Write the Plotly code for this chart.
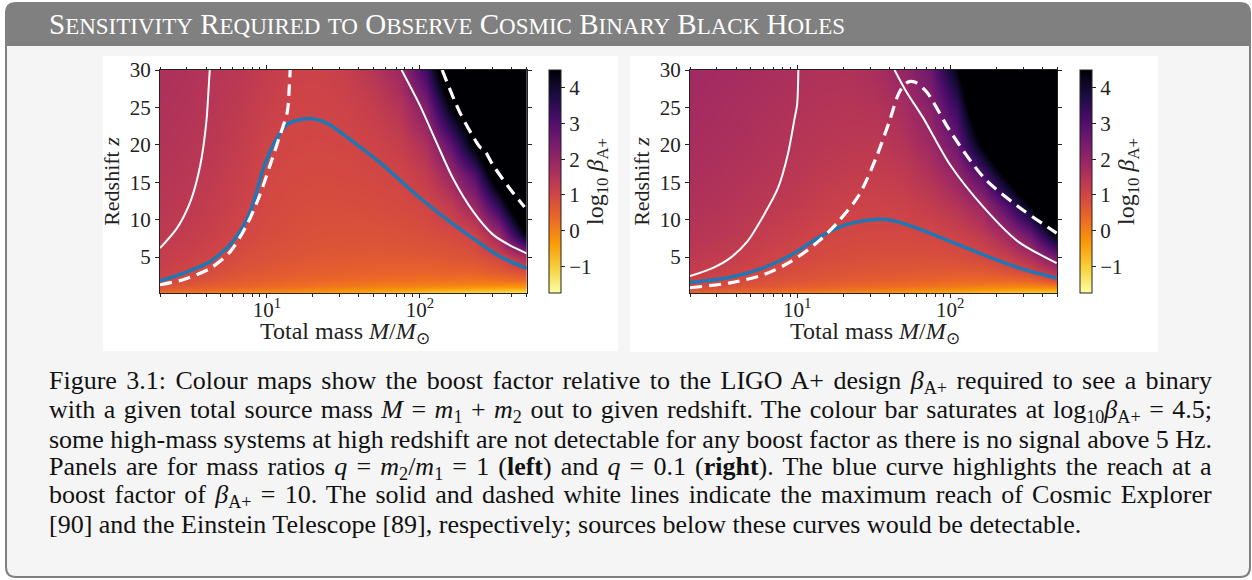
import math
import plotly.graph_objects as go

W, H = 1252, 580
FONT = "Liberation Serif"


def X(px):
    return px / W


def Y(py):
    return 1 - py / H


# ---------------- data ----------------
mass_nodes = [2, 3, 4.5, 7, 10, 15, 22, 33, 50, 75, 110, 160, 230, 330, 500]
z_nodes = [0.2, 0.6, 1.2, 2, 3, 5, 8, 12, 16, 20, 25, 30]

logbeta_q1_cols = [
    [0.2, 0.5, 0.8, 1.02, 1.12, 1.22, 1.32, 1.4, 1.46, 1.51, 1.56, 1.6],
    [0.1, 0.4, 0.65, 0.85, 1.0, 1.13, 1.24, 1.33, 1.4, 1.45, 1.5, 1.55],
    [0.0, 0.3, 0.55, 0.72, 0.85, 1.01, 1.13, 1.23, 1.3, 1.36, 1.41, 1.45],
    [-0.15, 0.2, 0.45, 0.6, 0.72, 0.85, 0.97, 1.07, 1.15, 1.22, 1.29, 1.35],
    [-0.25, 0.1, 0.35, 0.52, 0.65, 0.78, 0.88, 0.95, 0.98, 1.04, 1.15, 1.25],
    [-0.35, 0.0, 0.28, 0.45, 0.58, 0.72, 0.82, 0.89, 0.94, 0.98, 1.03, 1.1],
    [-0.45, -0.1, 0.2, 0.4, 0.53, 0.67, 0.78, 0.86, 0.92, 0.97, 1.03, 1.09],
    [-0.55, -0.2, 0.12, 0.35, 0.5, 0.65, 0.77, 0.87, 0.94, 0.99, 1.08, 1.18],
    [-0.7, -0.3, 0.05, 0.3, 0.47, 0.63, 0.77, 0.89, 0.97, 1.06, 1.22, 1.45],
    [-0.85, -0.4, 0.0, 0.28, 0.46, 0.64, 0.8, 0.93, 1.03, 1.2, 1.5, 1.9],
    [-1.0, -0.5, -0.05, 0.25, 0.45, 0.66, 0.85, 1.0, 1.25, 1.6, 2.3, 3.3],
    [-1.1, -0.6, -0.1, 0.25, 0.47, 0.72, 0.9, 1.3, 1.9, 2.8, 4.5, 6.0],
    [-1.2, -0.7, -0.15, 0.22, 0.48, 0.78, 1.05, 1.95, 3.0, 4.7, 6.0, 7.0],
    [-1.3, -0.8, -0.2, 0.25, 0.6, 1.0, 1.9, 3.6, 5.5, 7.0, 7.0, 7.0],
    [-1.35, -0.85, -0.25, 0.35, 0.82, 1.7, 4.5, 6.5, 7.0, 7.0, 7.0, 7.0],
]
logbeta_q01_cols = [
    [0.4, 0.7, 0.98, 1.12, 1.22, 1.34, 1.45, 1.55, 1.62, 1.68, 1.74, 1.8],
    [0.3, 0.6, 0.85, 1.01, 1.13, 1.27, 1.39, 1.5, 1.57, 1.63, 1.69, 1.75],
    [0.2, 0.5, 0.75, 0.9, 1.02, 1.17, 1.31, 1.43, 1.51, 1.58, 1.64, 1.7],
    [0.1, 0.4, 0.65, 0.8, 0.92, 1.05, 1.2, 1.34, 1.44, 1.51, 1.58, 1.65],
    [0.0, 0.32, 0.57, 0.73, 0.84, 0.97, 1.12, 1.27, 1.38, 1.46, 1.53, 1.6],
    [-0.1, 0.25, 0.5, 0.66, 0.77, 0.9, 1.0, 1.17, 1.3, 1.4, 1.48, 1.55],
    [-0.2, 0.15, 0.42, 0.6, 0.72, 0.86, 0.97, 1.1, 1.25, 1.36, 1.46, 1.55],
    [-0.3, 0.05, 0.35, 0.55, 0.68, 0.83, 0.95, 1.07, 1.22, 1.35, 1.5, 1.65],
    [-0.42, -0.05, 0.28, 0.5, 0.65, 0.82, 0.95, 1.12, 1.3, 1.5, 1.7, 2.0],
    [-0.55, -0.15, 0.2, 0.45, 0.62, 0.82, 0.98, 1.25, 1.55, 1.85, 2.2, 2.6],
    [-0.7, -0.25, 0.12, 0.4, 0.6, 0.85, 1.08, 1.5, 2.0, 2.6, 3.4, 4.4],
    [-0.85, -0.35, 0.05, 0.38, 0.62, 0.95, 1.3, 1.9, 3.0, 4.6, 6.0, 7.0],
    [-0.95, -0.45, 0.0, 0.4, 0.75, 1.15, 1.8, 3.0, 4.7, 6.5, 7.0, 7.0],
    [-1.05, -0.55, -0.05, 0.45, 0.95, 1.6, 2.6, 4.5, 6.5, 7.0, 7.0, 7.0],
    [-1.1, -0.55, 0.1, 0.9, 1.5, 2.5, 4.5, 7.0, 7.0, 7.0, 7.0, 7.0],
]

# q = 1 curves
blue_q1_M = [2.0, 2.86, 4.26, 6.0, 7.8, 9.5, 11.0, 13.5, 18.2, 24.6, 36.7, 57.5, 95, 157, 258, 331, 500]
blue_q1_z = [1.83, 2.86, 4.4, 7.1, 11.1, 16.9, 20.0, 22.7, 23.5, 22.9, 20.4, 17.3, 13.3, 9.75, 6.6, 5.1, 3.5]
ce_q1_low_M = [2.0, 2.59, 3.16, 3.67, 4.02, 4.16, 4.23]
ce_q1_low_z = [6.2, 8.9, 12.4, 17.3, 23.1, 27.6, 30.0]
ce_q1_high_M = [76, 100, 128, 165, 223, 301, 386, 500]
ce_q1_high_z = [30.0, 25.3, 20.4, 15.5, 11.1, 8.0, 6.6, 5.5]
et_q1_low_M = [2.0, 2.86, 4.27, 5.75, 7.4, 9.0, 10.5, 12.2, 13.6, 14.0, 14.2]
et_q1_low_z = [1.3, 2.0, 3.5, 5.7, 9.3, 13.3, 17.3, 21.3, 24.4, 27.6, 30.0]
et_q1_high_M = [140, 182, 234, 250, 262, 301, 386, 484]
et_q1_high_z = [30.0, 24.4, 20.4, 19.6, 19.4, 17.3, 14.2, 11.7]

# q = 0.1 curves
blue_q01_M = [2.0, 3.67, 6.1, 9.2, 13.8, 20.7, 31, 42, 60, 100, 166, 276, 495]
blue_q01_z = [1.6, 2.3, 3.6, 5.3, 7.6, 9.3, 10.0, 9.9, 8.9, 7.1, 5.3, 3.6, 2.2]
ce_q01_low_M = [2.0, 2.85, 3.67, 4.74, 6.1, 7.5, 8.7, 9.65, 10.0, 10.2]
ce_q01_low_z = [2.45, 3.6, 4.9, 7.1, 10.7, 14.2, 18.7, 23.6, 25.3, 30.0]
ce_q01_high_M = [43.3, 51.7, 66.6, 100, 166, 276, 495]
ce_q01_high_z = [30.0, 27.1, 23.6, 17.3, 11.6, 7.1, 4.2]
et_q01_M = [2.0, 3.67, 6.1, 9.2, 13.8, 18.7, 25.4, 32.7, 40, 46.7, 53, 58.6, 70, 100, 166, 276, 495]
et_q01_z = [0.9, 1.56, 2.67, 4.45, 7.1, 9.8, 13.3, 18.2, 23.1, 27.1, 28.4, 28.4, 27.1, 21.8, 15.6, 11.8, 8.2]

x_tickvals = [10, 100]
x_ticktext = ["10<sup>1</sup>", "10<sup>2</sup>"]
x_minor = [2, 3, 4, 5, 6, 7, 8, 9, 20, 30, 40, 50, 60, 70, 80, 90, 200, 300, 400, 500]
y_tickvals = [5, 10, 15, 20, 25, 30]
cb_tickvals = [-1, 0, 1, 2, 3, 4]
cb_ticktext = ["\u22121", "0", "1", "2", "3", "4"]

x_title = "Total mass <i>M</i>/<i>M</i><sub>\u2299</sub>"
y_title = "Redshift <i>z</i>"
cb_title = "log<sub>10</sub> <i>\u03b2</i><sub>A+</sub>"
title_text = "Sensitivity Required to Observe Cosmic Binary Black Holes"
caption_lines = [
    "Figure 3.1: Colour maps show the boost factor relative to the LIGO A+ design <i>\u03b2</i><sub>A+</sub> required to see a binary",
    "with a given total source mass <i>M</i> = <i>m</i><sub>1</sub> + <i>m</i><sub>2</sub> out to given redshift. The colour bar saturates at log<sub>10</sub><i>\u03b2</i><sub>A+</sub> = 4.5;",
    "some high-mass systems at high redshift are not detectable for any boost factor as there is no signal above 5 Hz.",
    "Panels are for mass ratios <i>q</i> = <i>m</i><sub>2</sub>/<i>m</i><sub>1</sub> = 1 (<b>left</b>) and <i>q</i> = 0.1 (<b>right</b>). The blue curve highlights the reach at a",
    "boost factor of <i>\u03b2</i><sub>A+</sub> = 10. The solid and dashed white lines indicate the maximum reach of Cosmic Explorer",
    "[90] and the Einstein Telescope [89], respectively; sources below these curves would be detectable.",
]

# ---------------- figure ----------------
ZMIN, ZMAX = -1.75, 4.5
fig = go.Figure()


def transpose(cols):
    return [[cols[j][i] for j in range(len(cols))] for i in range(len(cols[0]))]


def colorbar(xpx):
    return dict(
        x=X(xpx), xanchor="left", y=Y(181.5), yanchor="middle",
        len=223 / H, lenmode="fraction", thickness=12, thicknessmode="pixels",
        outlinewidth=1, outlinecolor="#222", xpad=0, ypad=0,
        ticks="outside", ticklen=4, tickwidth=1, tickcolor="#222",
        tickvals=cb_tickvals, ticktext=cb_ticktext,
        tickfont=dict(family=FONT, size=21, color="#222"),
        title=dict(text=cb_title, side="right", font=dict(family=FONT, size=24, color="#222")),
    )


for cols, xa, ya, cbx in [(logbeta_q1_cols, "x", "y", 548.5), (logbeta_q01_cols, "x2", "y2", 1080)]:
    fig.add_trace(go.Heatmap(
        x=mass_nodes, y=z_nodes, z=transpose(cols),
        colorscale="Inferno", reversescale=True, zmin=ZMIN, zmax=ZMAX,
        zsmooth="best", colorbar=colorbar(cbx), xaxis=xa, yaxis=ya,
        hoverinfo="skip",
    ))

BLUE = "#1f77b4"


def line(xs, ys, xa, ya, color, width, dash=None):
    fig.add_trace(go.Scatter(
        x=xs, y=ys, mode="lines", xaxis=xa, yaxis=ya, hoverinfo="skip", showlegend=False,
        line=dict(color=color, width=width, dash=dash, shape="spline", smoothing=0.8),
    ))


line(blue_q1_M, blue_q1_z, "x", "y", BLUE, 3.5)
line(ce_q1_low_M, ce_q1_low_z, "x", "y", "white", 2)
line(ce_q1_high_M, ce_q1_high_z, "x", "y", "white", 2)
line(et_q1_low_M, et_q1_low_z, "x", "y", "white", 3.2, "12px,7px")
line(et_q1_high_M, et_q1_high_z, "x", "y", "white", 3.2, "12px,7px")

line(blue_q01_M, blue_q01_z, "x2", "y2", BLUE, 3.5)
line(ce_q01_low_M, ce_q01_low_z, "x2", "y2", "white", 2)
line(ce_q01_high_M, ce_q01_high_z, "x2", "y2", "white", 2)
line(et_q01_M, et_q01_z, "x2", "y2", "white", 3.2, "12px,7px")

tickfont = dict(family=FONT, size=21, color="#222")


def xaxis(d0, d1, anchor):
    return dict(
        type="log", range=[math.log10(2), math.log10(500)], domain=[X(d0), X(d1)], anchor=anchor,
        automargin=False,
        tickmode="array", tickvals=x_tickvals, ticktext=x_ticktext,
        ticks="outside", ticklen=4, tickwidth=1, tickcolor="#222",
        ticklabelstandoff=-6,
        minor=dict(tickvals=x_minor, ticks="outside", ticklen=2.5, tickwidth=0.8, tickcolor="#222", showgrid=False),
        showline=True, linecolor="#222", linewidth=1, mirror="ticks",
        showgrid=False, zeroline=False, tickfont=tickfont,
    )


def yaxis(anchor):
    return dict(
        range=[0.2, 30], domain=[Y(293), Y(70)], anchor=anchor,
        automargin=False,
        tickmode="array", tickvals=y_tickvals,
        ticks="outside", ticklen=4, tickwidth=1, tickcolor="#222",
        showline=True, linecolor="#222", linewidth=1, mirror="ticks",
        showgrid=False, zeroline=False, tickfont=tickfont,
        title=dict(text=y_title, font=dict(family=FONT, size=22, color="#222"), standoff=4),
    )


# ---------------- decoration ----------------
def rounded_path(x0, y0, x1, y1, r, top=True, bottom=True):
    rx, ry = r / W, r / H
    a0, b0, a1, b1 = X(x0), Y(y0), X(x1), Y(y1)
    p = []
    if top:
        p.append(f"M {a0},{b0 - ry} Q {a0},{b0} {a0 + rx},{b0} L {a1 - rx},{b0} Q {a1},{b0} {a1},{b0 - ry}")
    else:
        p.append(f"M {a0},{b0} L {a1},{b0}")
    if bottom:
        p.append(f"L {a1},{b1 + ry} Q {a1},{b1} {a1 - rx},{b1} L {a0 + rx},{b1} Q {a0},{b1} {a0},{b1 + ry} Z")
    else:
        p.append(f"L {a1},{b1} L {a0},{b1} Z")
    return " ".join(p)


shapes = [
    dict(type="path", xref="paper", yref="paper", path=rounded_path(6, 3, 1250, 577, 10),
         fillcolor="#f5f5f5", line=dict(color="#808080", width=2), layer="below"),
    dict(type="path", xref="paper", yref="paper", path=rounded_path(6, 3, 1250, 46, 10, bottom=False),
         fillcolor="#808080", line=dict(width=0), layer="below"),
    dict(type="rect", xref="paper", yref="paper", x0=X(103), x1=X(618), y0=Y(351), y1=Y(56),
         fillcolor="white", line=dict(width=0), layer="below"),
    dict(type="rect", xref="paper", yref="paper", x0=X(630), x1=X(1158), y0=Y(352), y1=Y(56),
         fillcolor="white", line=dict(width=0), layer="below"),
]


def small_caps(s, small_px):
    out, buf = [], ""
    for ch in s:
        if ch.islower():
            buf += ch.upper()
        else:
            if buf:
                out.append(f"<span style='font-size:{small_px}px'>{buf}</span>")
                buf = ""
            out.append(ch)
    if buf:
        out.append(f"<span style='font-size:{small_px}px'>{buf}</span>")
    return "".join(out)


annotations = [
    dict(text=small_caps(title_text, 23), x=X(47), y=Y(24), xref="paper", yref="paper",
         xanchor="left", yanchor="middle", align="left", showarrow=False,
         font=dict(family=FONT, size=29, color="white")),
]
cap_y = [382, 410.5, 439, 467.5, 496, 524.5]
for t, yy in zip(caption_lines, cap_y):
    annotations.append(dict(text=t, x=X(47), y=Y(yy), xref="paper", yref="paper",
                            xanchor="left", yanchor="middle", align="left", showarrow=False,
                            font=dict(family=FONT, size=26, color="#111")))
for cx in (345, 875):
    annotations.append(dict(text=x_title, x=X(cx), y=Y(333), xref="paper", yref="paper",
                            xanchor="center", yanchor="middle", showarrow=False,
                            font=dict(family=FONT, size=24, color="#222")))

fig.update_layout(
    width=W, height=H, autosize=False,
    margin=dict(l=0, r=0, t=0, b=0, pad=0, autoexpand=False),
    paper_bgcolor="white", plot_bgcolor="rgba(0,0,0,0)",
    showlegend=False,
    xaxis=xaxis(160, 526.7, "y"), yaxis=yaxis("x"),
    xaxis2=xaxis(690, 1057.3, "y2"), yaxis2=yaxis("x2"),
    shapes=shapes, annotations=annotations,
)

# pin the graph to the window corner and justify caption lines 1-5 (LaTeX-style)
post = """
var gd = document.getElementById('{plot_id}');
document.documentElement.style.margin = '0';
document.body.style.margin = '0';
gd.style.position = 'fixed'; gd.style.left = '0px'; gd.style.top = '0px';
function justify(tries) {
  var ok = false;
  for (var i = 1; i <= 5; i++) {
    var t = gd.querySelector('g.annotation[data-index="' + i + '"] text.annotation-text');
    if (!t) continue;
    ok = true;
    t.style.wordSpacing = '0px';
    var w = t.getBBox().width;
    var n = (t.textContent.match(/ /g) || []).length;
    if (n > 0) t.style.wordSpacing = ((1163 - w) / n) + 'px';
  }
  if (!ok && tries < 50) setTimeout(function () { justify(tries + 1); }, 50);
}
justify(0);
"""

fig.write_html("out.html", config={"displayModeBar": False}, post_script=post)
